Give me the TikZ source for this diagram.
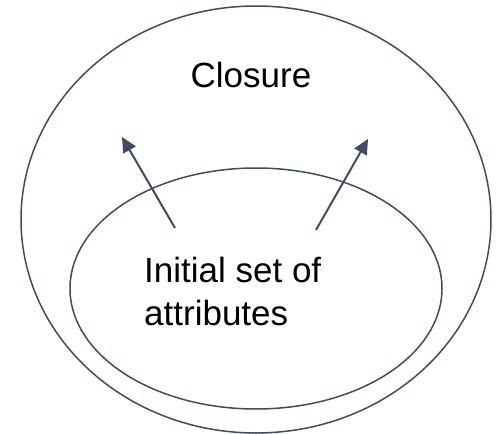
\documentclass[tikz,border=0pt]{standalone}
\usepackage{fontspec}
\setmainfont{Liberation Sans}
\usetikzlibrary{shapes.geometric,arrows.meta}
\definecolor{linec}{HTML}{3E4C63}
\tikzset{
  setshape/.style={ellipse, draw=linec, line width=1.5pt, inner sep=0pt},
  growarrow/.style={draw=linec, line width=2pt, -{Triangle[length=15pt,width=14pt]}},
  lbl/.style={inner sep=0pt, font=\fontsize{35}{43}\selectfont}
}
\begin{document}
\begin{tikzpicture}[x=1pt,y=-1pt]
\useasboundingbox (0,0) rectangle (496,434);
\node[setshape, minimum width=470pt, minimum height=427pt] (outer) at (256,219.5) {};
\node[setshape, minimum width=372pt, minimum height=241pt] (inner) at (256,288.5) {};
\node[lbl, anchor=base] (closure) at (251,87) {Closure};
\node[lbl, anchor=base west, align=left] (initial) at (144,325) {Initial set of\\attributes};
\coordinate (s1) at (175,228);
\coordinate (t1) at (122,137);
\coordinate (s2) at (316,230);
\coordinate (t2) at (368,139);
\draw[growarrow] (s1) -- (t1);
\draw[growarrow] (s2) -- (t2);
\end{tikzpicture}
\end{document}
